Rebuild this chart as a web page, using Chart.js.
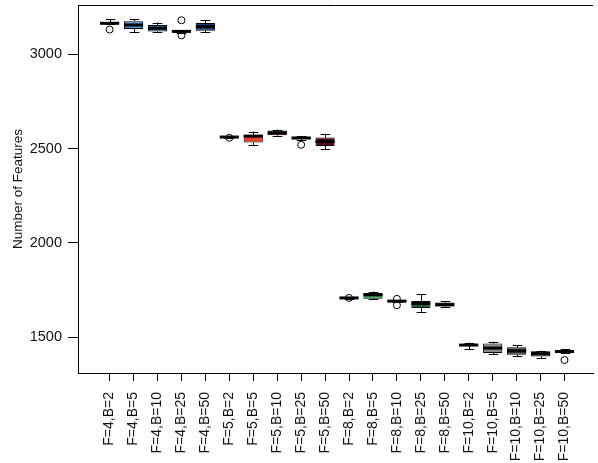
<!DOCTYPE html>
<html>
<head>
<meta charset="utf-8">
<script src="https://cdn.jsdelivr.net/npm/chart.js@4/dist/chart.umd.min.js"></script>
<style>
  html, body { margin: 0; padding: 0; background: #ffffff; }
  #wrap { width: 598px; height: 463px; }
</style>
</head>
<body>
<div id="wrap"><canvas id="c" width="598" height="463"></canvas></div>
<script>
// Feature counts per configuration (F = features, B = bins)
const categories = [
  'F=4,B=2', 'F=4,B=5', 'F=4,B=10', 'F=4,B=25', 'F=4,B=50',
  'F=5,B=2', 'F=5,B=5', 'F=5,B=10', 'F=5,B=25', 'F=5,B=50',
  'F=8,B=2', 'F=8,B=5', 'F=8,B=10', 'F=8,B=25', 'F=8,B=50',
  'F=10,B=2', 'F=10,B=5', 'F=10,B=10', 'F=10,B=25', 'F=10,B=50'
];
const lowerWhisker = [3158, 3117, 3117, 3115, 3118, 2555, 2520, 2566, 2545, 2496, 1704, 1700, 1685, 1634, 1658, 1436, 1410, 1398, 1388, 1414];
const q1           = [3160, 3134, 3120, 3118, 3125, 2558, 2532, 2570, 2549, 2514, 1705, 1703, 1688, 1654, 1662, 1454, 1416, 1407, 1398, 1416];
const median       = [3164, 3155, 3138, 3121, 3146, 2561, 2566, 2583, 2556, 2537, 1708, 1725, 1691, 1678, 1672, 1458, 1442, 1427, 1414, 1424];
const q3           = [3167, 3175, 3155, 3125, 3166, 2564, 2572, 2595, 2560, 2558, 1710, 1734, 1694, 1692, 1684, 1462, 1466, 1446, 1425, 1432];
const upperWhisker = [3186, 3187, 3168, 3128, 3182, 2567, 2590, 2600, 2565, 2578, 1712, 1742, 1697, 1728, 1690, 1471, 1476, 1458, 1428, 1436];

// Outlying observations: position of the configuration (1-based) and value
const outlierPos   = [1, 4, 4, 6, 9, 11, 13, 13, 20];
const outlierValue = [3131, 3180, 3100, 2557, 2520, 1708, 1703, 1669, 1379];

const yTicks = [1500, 2000, 2500, 3000];

// Box fill per configuration
const boxColors = [
  '#000000', '#4a8fd4', '#2d6cb6', '#000000', '#1d3c78',
  '#000000', '#e8402a', '#b5171c', '#000000', '#5a0a14',
  '#000000', '#2e9a49', '#000000', '#1d6b30', '#122a18',
  '#000000', '#8a8a8a', '#4a4a4a', '#2a2a2a', '#111111'
];

const boxData = categories.map((c, i) => ({ x: i + 1, y: [q1[i], q3[i]] }));
const outlierData = outlierPos.map((p, i) => ({ x: p, y: outlierValue[i] }));

const crisp = v => Math.round(v) + 0.5;

// Whiskers, staples, medians and the top frame line
const boxPlotExtras = {
  id: 'boxPlotExtras',
  beforeDatasetsDraw(chart) {
    const meta = chart.getDatasetMeta(0);
    const xs = chart.scales.x, ys = chart.scales.y;
    const ctx = chart.ctx;
    ctx.save();
    ctx.strokeStyle = '#000';
    ctx.lineWidth = 1;
    meta.data.forEach((bar, i) => {
      const x = crisp(xs.getPixelForValue(i + 1));
      const half = bar.width / 4;
      const yLo = ys.getPixelForValue(lowerWhisker[i]);
      const yHi = ys.getPixelForValue(upperWhisker[i]);
      const yQ1 = ys.getPixelForValue(q1[i]);
      const yQ3 = ys.getPixelForValue(q3[i]);
      ctx.beginPath();
      ctx.moveTo(x, yQ3); ctx.lineTo(x, yHi);
      ctx.moveTo(x, yQ1); ctx.lineTo(x, yLo);
      ctx.moveTo(x - half, crisp(yHi)); ctx.lineTo(x + half, crisp(yHi));
      ctx.moveTo(x - half, crisp(yLo)); ctx.lineTo(x + half, crisp(yLo));
      ctx.stroke();
    });
    ctx.restore();
  },
  afterDatasetDraw(chart, args) {
    if (args.index !== 0) return;
    const meta = chart.getDatasetMeta(0);
    const ys = chart.scales.y;
    const ctx = chart.ctx;
    ctx.save();
    ctx.strokeStyle = '#000';
    ctx.lineWidth = 3;
    ctx.lineCap = 'butt';
    meta.data.forEach((bar, i) => {
      const y = ys.getPixelForValue(median[i]);
      ctx.beginPath();
      ctx.moveTo(bar.x - bar.width / 2, y);
      ctx.lineTo(bar.x + bar.width / 2, y);
      ctx.stroke();
    });
    ctx.restore();
  },
  afterDraw(chart) {
    const a = chart.chartArea;
    const ctx = chart.ctx;
    ctx.save();
    ctx.strokeStyle = '#000';
    ctx.lineWidth = 1;
    ctx.beginPath();
    ctx.moveTo(a.left, crisp(a.top));
    ctx.lineTo(a.right, crisp(a.top));
    ctx.stroke();
    ctx.restore();
  }
};

new Chart(document.getElementById('c'), {
  type: 'bar',
  data: {
    datasets: [
      {
        type: 'bar',
        data: boxData,
        backgroundColor: boxColors,
        borderColor: '#000',
        borderWidth: 1,
        borderSkipped: false,
        barPercentage: 0.8,
        categoryPercentage: 1.0,
        grouped: false,
        order: 2
      },
      {
        type: 'scatter',
        data: outlierData,
        pointStyle: 'circle',
        pointRadius: 3.5,
        pointBorderWidth: 1,
        pointBorderColor: '#000',
        pointBackgroundColor: 'rgba(0,0,0,0)',
        order: 1
      }
    ]
  },
  options: {
    responsive: false,
    animation: false,
    events: [],
    layout: { padding: { top: 5, right: 0, bottom: 0, left: 0 } },
    plugins: { legend: { display: false }, tooltip: { enabled: false } },
    scales: {
      x: {
        type: 'linear',
        min: -0.32,
        max: 21.19,
        offset: false,
        afterBuildTicks: s => { s.ticks = categories.map((c, i) => ({ value: i + 1 })); },
        afterFit: s => { s.height = 90; s.paddingLeft = 0; s.paddingRight = 0; },
        grid: { offset: false, drawOnChartArea: false, drawTicks: true, tickLength: 8, color: '#000', lineWidth: 1 },
        border: { display: true, color: '#000', width: 1 },
        ticks: {
          autoSkip: false,
          minRotation: 90,
          maxRotation: 90,
          padding: 11,
          color: '#111',
          font: { family: 'Liberation Sans, Arial, sans-serif', size: 14 },
          callback: v => categories[v - 1]
        }
      },
      y: {
        type: 'linear',
        min: 1310,
        max: 3261,
        afterBuildTicks: s => { s.ticks = yTicks.map(v => ({ value: v })); },
        afterFit: s => { s.width = 78; s.paddingTop = 0; s.paddingBottom = 0; },
        grid: { drawOnChartArea: false, drawTicks: true, tickLength: 10, color: '#000', lineWidth: 1 },
        border: { display: true, color: '#000', width: 1 },
        ticks: {
          padding: 6,
          color: '#111',
          font: { family: 'Liberation Sans, Arial, sans-serif', size: 14.5 },
          callback: v => String(v)
        },
        title: {
          display: true,
          text: 'Number of Features',
          color: '#111',
          font: { family: 'Liberation Sans, Arial, sans-serif', size: 13.5 },
          padding: { top: 10, bottom: 0 }
        }
      }
    }
  },
  plugins: [boxPlotExtras]
});
</script>
</body>
</html>
